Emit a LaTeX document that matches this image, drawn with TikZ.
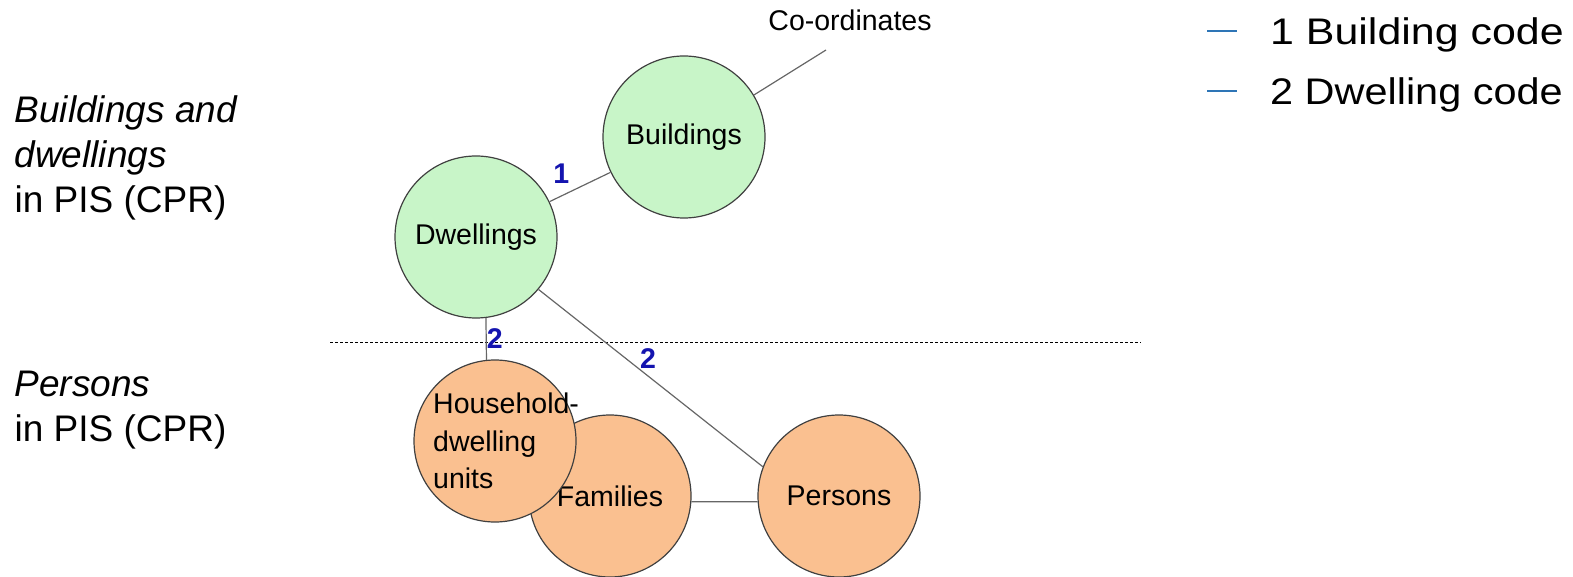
\documentclass[tikz,border=0pt]{standalone}
\usepackage{fontspec}
\usepackage{graphicx}
\setmainfont{Liberation Sans}
\usetikzlibrary{positioning}
\definecolor{dwgreen}{RGB}{200,245,200}
\definecolor{psorange}{RGB}{250,192,144}
\definecolor{codeblue}{RGB}{20,20,175}
\definecolor{legblue}{RGB}{46,117,182}
\newcommand\bigtext{\fontsize{37}{45}\selectfont}
\newcommand\nodetext{\fontsize{28.5}{37.5}\selectfont}

\begin{document}
\begin{tikzpicture}[x=1pt, y=1pt, node distance=200pt, every node/.style={inner sep=0pt},
	entity/.style={circle, draw=black!75, line width=1.2pt, minimum size=162pt, font=\nodetext},
	upper/.style={entity, fill=dwgreen},
	lower/.style={entity, fill=psorange},
	link/.style={draw=black!60, line width=1.2pt},
	codelbl/.style={text=codeblue, font=\nodetext\bfseries},
	side/.style={align=left, anchor=north west, font=\bigtext},
	legdash/.style={draw=legblue, line width=2.5pt}]
	\useasboundingbox (0,0) rectangle (1573,-577);

	\node[side] (toplbl) at (14.5,-95) {\textit{Buildings and}\\\textit{dwellings}\\in PIS (CPR)};
	\node[side] (botlbl) at (14.5,-370.5) {\textit{Persons}\\in PIS (CPR)};

	\coordinate (sepl) at (330,-342);
	\coordinate (sepr) at (1141,-342);
	\draw[dash pattern=on 3pt off 2pt, line width=0.9pt] (sepl) -- (sepr);

	\node[upper] (dw) at (476,-237) {Dwellings};
	\node[upper] (bd) [right of=dw, xshift=8pt, yshift=100pt] {Buildings};
	\node[lower] (fm) [below of=dw, xshift=134pt, yshift=-59pt] {Families};
	\node[lower] (hh) [below of=dw, xshift=19pt, yshift=-4pt] {};
	\node[side, font=\nodetext] (hhtext) at ([xshift=-62pt, yshift=48pt]hh.center) {Household-\\dwelling\\units};
	\node[lower] (ps) [right of=fm, xshift=29pt] {Persons};
	\node[font=\nodetext] (coord) [right of=bd, xshift=-34pt, yshift=117pt] {Co-ordinates};
	\coordinate (coend) at ([xshift=142pt, yshift=87pt]bd.center);

	\path[link] (dw) -- node[codelbl, pos=0.42, above left=7.5pt] (c1) {1} (bd)
	         (dw.-83) -- node[codelbl, right] (c2) {2} (hh.96)
	         (dw.-40) -- node[codelbl, pos=0.45, above right=0pt] (c3) {2} (ps.159)
	         (fm.-4) -- (ps.184)
	         (bd.31.5) -- (coend);

	\node[font=\bigtext, anchor=base west] (leg1) at (1270,-45) {\scalebox{1.16}[1]{1 Building code}};
	\node[font=\bigtext, anchor=base west] (leg2) at (1270,-105) {\scalebox{1.12}[1]{2 Dwelling code}};
	\draw[legdash] ([xshift=-63pt, yshift=14pt]leg1.base west) -- ([xshift=-33pt, yshift=14pt]leg1.base west);
	\draw[legdash] ([xshift=-63pt, yshift=14pt]leg2.base west) -- ([xshift=-33pt, yshift=14pt]leg2.base west);
\end{tikzpicture}
\end{document}
